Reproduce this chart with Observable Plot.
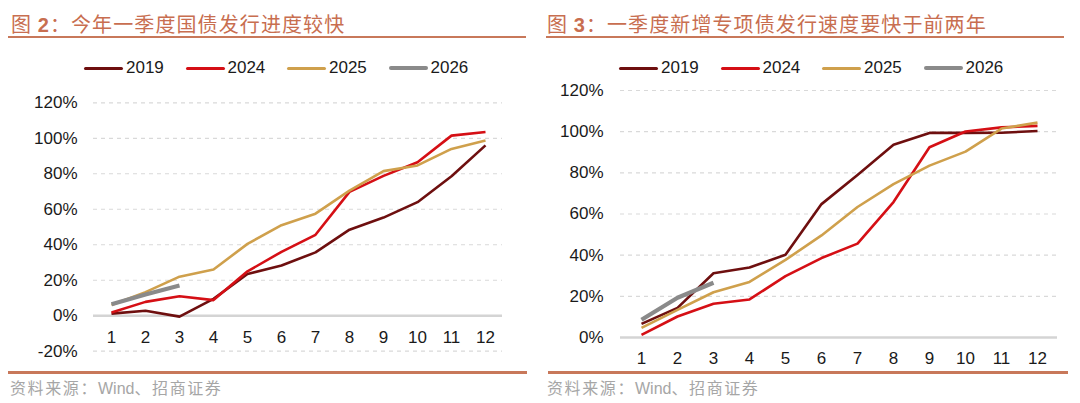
<!DOCTYPE html>
<html><head><meta charset="utf-8">
<script src="https://cdn.jsdelivr.net/npm/d3@7"></script>
<script src="https://cdn.jsdelivr.net/npm/@observablehq/plot@0.6"></script>
<style>
html,body{margin:0;padding:0;background:#fff;}
body{width:1080px;height:403px;overflow:hidden;position:relative;font-family:"Liberation Sans",Arial,sans-serif;}
.title{position:absolute;top:12px;font-family:"Noto Sans CJK SC",sans-serif;font-size:20px;letter-spacing:1.1px;color:#c86e50;line-height:24px;white-space:nowrap;}
.title b{font-family:"Liberation Sans",Arial,sans-serif;font-weight:bold;}
.rule{position:absolute;background:#c8785a;}
.leg{position:absolute;top:58px;height:20px;display:flex;align-items:center;font-size:17px;color:#1a1a1a;white-space:nowrap;}
.leg span.sw{display:inline-block;width:39px;margin-right:3px;border-radius:2px;}
.src{position:absolute;top:376px;font-family:"Noto Sans CJK SC",sans-serif;font-size:16px;letter-spacing:1.6px;color:#a6a6a6;line-height:22px;white-space:nowrap;}
.src i{font-style:normal;font-family:"Liberation Sans",Arial,sans-serif;letter-spacing:0;}
.plot{position:absolute;}
</style>
</head><body>
<script>
// ---- data ----
const months = [1,2,3,4,5,6,7,8,9,10,11,12];
const years = ["2019","2024","2025","2026"];
const colors = ["#6e0f0f","#d50f15","#cfa04c","#8a8a8a"];
const widths = [2.6,2.6,2.6,4.2];

// Fig 2: 国债发行进度 (%)
const gov2019 = [1.2, 2.8, -0.5, 9.5, 23.5, 28.3, 35.7, 48.5, 55.3, 64.0, 78.6, 96.0];
const gov2024 = [1.8, 7.8, 11.0, 8.8, 25.0, 36.0, 45.6, 69.8, 78.8, 86.5, 101.5, 103.5];
const gov2025 = [6.0, 13.3, 22.0, 26.0, 40.5, 51.0, 57.5, 70.5, 81.5, 84.7, 94.0, 98.8];
const gov2026 = [6.5, 12.0, 17.0];

// Fig 3: 新增专项债发行进度 (%)
const sp2019 = [6.6, 14.4, 31.2, 34.0, 40.2, 64.8, 78.9, 93.6, 99.4, 99.4, 99.5, 100.3];
const sp2024 = [1.3, 10.2, 16.4, 18.5, 29.8, 38.6, 45.6, 65.8, 92.4, 100.1, 102.1, 102.8];
const sp2025 = [4.7, 13.4, 22.0, 27.0, 37.7, 49.6, 63.4, 74.5, 83.5, 90.3, 101.5, 104.4];
const sp2026 = [8.6, 19.3, 26.6];

const ticksLeft = [-20, 0, 20, 40, 60, 80, 100, 120];
const ticksRight = [0, 20, 40, 60, 80, 100, 120];

const title2 = ["图 ", "2", "：今年一季度国债发行进度较快"];
const title3 = ["图 ", "3", "：一季度新增专项债发行速度要快于前两年"];
const sourceText = ["资料来源：", "Wind", "、招商证券"];

function rows(seriesList) {
  const out = [];
  seriesList.forEach((vals, k) => vals.forEach((v, i) => out.push({month: months[i], value: v, year: years[k]})));
  return out;
}

function chart(o) {
  const data = rows(o.series);
  const lineMarks = years.map((yr, k) =>
    Plot.line(data.filter(d => d.year === yr), {
      x: "month", y: "value", stroke: "year", strokeWidth: widths[k],
      strokeLinejoin: "round", strokeLinecap: "butt"
    }));
  return Plot.plot({
    width: o.width, height: o.height,
    marginTop: o.mt, marginBottom: o.mb, marginLeft: o.ml, marginRight: o.mr,
    style: {fontFamily: "'Liberation Sans', Arial, sans-serif", fontSize: "17px", color: "#1a1a1a", background: "transparent", overflow: "visible"},
    x: {type: "point", domain: months, padding: 0.5, axis: null},
    y: {domain: o.yDomain},
    color: {domain: years, range: colors},
    marks: [
      Plot.ruleY(o.ticks.filter(d => d !== 0), {stroke: "#d9d9d9", strokeWidth: 1.2, strokeDasharray: "4,4"}),
      Plot.ruleY([0], {stroke: "#d4d4d4", strokeWidth: 2.6}),
      Plot.axisY(o.ticks, {tickSize: 0, tickPadding: o.tp, tickFormat: d => d + "%", fontSize: 17, label: null, fill: "#1a1a1a"}),
      Plot.text(months, {x: d => d, y: () => 0, dy: o.xdy, text: d => String(d), fontSize: 17, fill: "#1a1a1a"}),
      ...lineMarks
    ]
  });
}

function place(node, left, top) {
  node.classList.add("plot");
  node.style.left = left + "px";
  node.style.top = top + "px";
  document.body.appendChild(node);
}

function addTitle(parts, left) {
  const d = document.createElement("div");
  d.className = "title";
  d.style.left = left + "px";
  d.append(parts[0]);
  const b = document.createElement("b"); b.textContent = parts[1]; d.append(b);
  d.append(parts[2]);
  document.body.appendChild(d);
}
function addRule(left, top, w, h) {
  const r = document.createElement("div");
  r.className = "rule";
  Object.assign(r.style, {left: left + "px", top: top + "px", width: w + "px", height: h + "px"});
  document.body.appendChild(r);
}
function addLegend(start) {
  years.forEach((yr, k) => {
    const d = document.createElement("div");
    d.className = "leg";
    d.style.left = (start + k * 101.5) + "px";
    const s = document.createElement("span");
    s.className = "sw";
    s.style.height = (k === 3 ? 4.5 : 3) + "px";
    s.style.background = colors[k];
    d.appendChild(s);
    d.append(yr);
    document.body.appendChild(d);
  });
}
function addSource(left) {
  const d = document.createElement("div");
  d.className = "src";
  d.style.left = left + "px";
  d.append(sourceText[0]);
  const i = document.createElement("i"); i.textContent = sourceText[1]; d.append(i);
  d.append(sourceText[2]);
  document.body.appendChild(d);
}

// Left panel
addTitle(title2, 11);
addRule(8, 36, 518, 2);
addLegend(84);
place(chart({series: [gov2019, gov2024, gov2025, gov2026], yDomain: [-20, 120], ticks: ticksLeft,
  width: 540, height: 285, mt: 22.3, mb: 14.3, ml: 93, mr: 38, tp: 16, xdy: 22}), 0, 80);
addRule(8, 371, 519, 3);
addSource(10);

// Right panel
addTitle(title3, 547);
addRule(546, 36, 518, 2);
addLegend(619);
place(chart({series: [sp2019, sp2024, sp2025, sp2026], yDomain: [0, 120], ticks: ticksRight,
  width: 540, height: 290, mt: 10, mb: 33, ml: 80, mr: 23, tp: 17, xdy: 21}), 540, 80);
addRule(548, 371, 520, 3);
addSource(547);
</script>
</body></html>
